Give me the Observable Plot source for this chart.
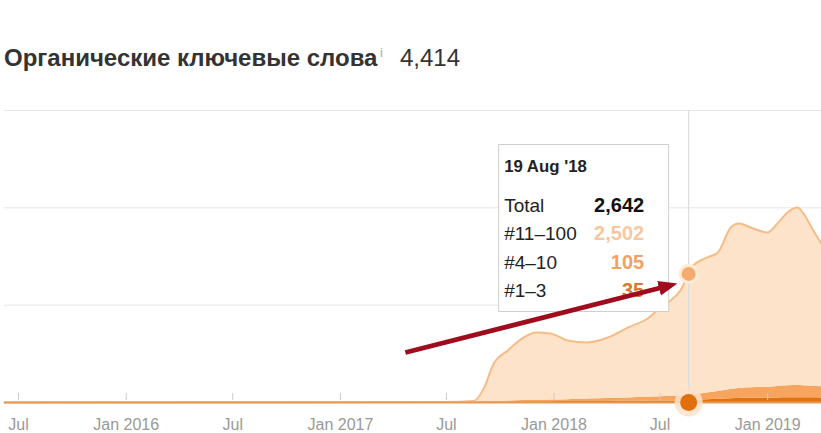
<!DOCTYPE html>
<html><head><meta charset="utf-8">
<script src="https://cdn.jsdelivr.net/npm/d3@7"></script>
<script src="https://cdn.jsdelivr.net/npm/@observablehq/plot@0.6"></script>
<style>
body{margin:0;background:#fff;font-family:"Liberation Sans",Arial,sans-serif;}
#wrap{position:relative;width:821px;height:433px;overflow:hidden;}
#head{position:relative;height:95px;}
#title{position:absolute;left:4px;top:46px;font-size:24px;font-weight:bold;color:#333;line-height:24px;white-space:nowrap;}
#info{position:absolute;left:380px;top:46px;font-size:13px;color:#aaa;line-height:13px;}
#count{position:absolute;left:400px;top:46px;font-size:24px;color:#333;line-height:24px;}
#chart{position:relative;height:338px;}
</style></head>
<body><div id="wrap"><div id="head"><span id="title"></span><span id="info">i</span><span id="count"></span></div><div id="chart"></div></div>
<script>
const titleText = "Органические ключевые слова";
const totalCount = "4,414";
const dates = ["2015-06-07","2017-07-01","2017-08-17","2017-09-03","2017-09-20","2017-10-14","2017-11-10","2017-12-01","2017-12-26","2018-01-24","2018-02-27","2018-04-03","2018-05-07","2018-06-10","2018-07-02","2018-07-19","2018-08-05","2018-08-19","2018-08-27","2018-09-20","2018-10-08","2018-10-30","2018-11-13","2018-12-03","2019-01-01","2019-01-18","2019-02-04","2019-02-21","2019-03-03","2019-03-20","2019-04-03"];
const kw11_100 = [0,5,19,272,775,1038,1296,1395,1369,1217,1165,1253,1445,1617,1832,1968,2167,2502,2660,2785,2855,3330,3390,3290,3180,3350,3560,3655,3540,3202,2940];
const kw4_10 = [0,3,5,10,15,20,25,30,35,40,50,60,70,80,88,95,100,105,115,140,160,190,210,220,225,235,245,250,245,235,230];
const kw1_3 = [0,4,6,8,10,12,14,15,16,18,20,22,25,28,30,32,33,35,40,55,65,75,80,85,90,95,100,100,100,98,95];
const seriesNames = ["#1–3","#4–10","#11–100"];
const seriesColors = ["#e2720f","#f6a45e","#fde3c9"];
const tickDates = ["2015-07-01","2016-01-01","2016-07-01","2017-01-01","2017-07-01","2018-01-01","2018-07-01","2019-01-01"];
const tickLabels = ["Jul","Jan 2016","Jul","Jan 2017","Jul","Jan 2018","Jul","Jan 2019"];
const gridValues = [2000,4000,6000];
const hoverDate = "2018-08-19";
const hoverLabel = "19 Aug '18";
const arrowFrom = {date:"2017-04-22", value:1027};
const arrowTo = {date:"2018-07-11", value:2383};

document.getElementById("title").textContent = titleText;
document.getElementById("count").textContent = totalCount;

const parse = d3.utcParse("%Y-%m-%d");
const long = [];
const seriesArrays = [kw1_3, kw4_10, kw11_100];
dates.forEach((d,i)=>{
  seriesArrays.forEach((arr,k)=> long.push({date:parse(d), series:seriesNames[k], value:arr[i]}));
});
const totals = dates.map((d,i)=>({date:parse(d), value:kw1_3[i]+kw4_10[i]+kw11_100[i]}));
const hi = dates.indexOf(hoverDate);
const hd = parse(hoverDate);
const labelMap = new Map(tickDates.map((d,i)=>[+parse(d), tickLabels[i]]));
const ticks = tickDates.map(parse);

const chart = Plot.plot({
  width: 821, height: 338,
  marginTop: 15, marginBottom: 31, marginLeft: 4, marginRight: 0,
  x: {type:"utc", domain:[parse("2015-06-07"), parse("2019-04-03")], axis:null},
  y: {domain:[0,6000], axis:null},
  color: {domain: seriesNames, range: seriesColors},
  style: {fontFamily:"'Liberation Sans', Arial, sans-serif", background:"transparent"},
  marks: [
    Plot.gridY(gridValues, {stroke:"#e6e6e6", strokeOpacity:1, strokeWidth:1}),
    Plot.areaY(long, {x:"date", y:"value", fill:"series", z:"series", order: seriesNames, curve:"monotone-x"}),
    Plot.lineY(totals, {x:"date", y:"value", stroke:"#f4bd88", strokeWidth:2, curve:"monotone-x"}),
    Plot.ruleY([0], {stroke:"#e39a55", strokeWidth:2}),
    Plot.ruleX(ticks, {x:d=>d, y1:0, y2:0, insetTop:-9, insetBottom:2, stroke:"#cccccc"}),
    Plot.axisX({ticks, tickSize:0, tickPadding:16, fontSize:16, fill:"#999", tickFormat:d=>labelMap.get(+d)}),
    Plot.ruleX([hd], {y1:0, y2:6000, stroke:"#dcdcdc", strokeWidth:1.2}),
    Plot.dot([totals[hi]], {x:"date", y:"value", r:10, fill:"#fdebd9", stroke:"none"}),
    Plot.dot([totals[hi]], {x:"date", y:"value", r:7, fill:"#f6ab6e", stroke:"none"}),
    Plot.dot([{date:hd, value:0}], {x:"date", y:"value", r:14, fill:"#fbe2ca", fillOpacity:0.85, stroke:"none"}),
    Plot.dot([{date:hd, value:0}], {x:"date", y:"value", r:8.5, fill:"#e0700e", stroke:"none"}),
    Plot.link([{x1:parse(arrowFrom.date), y1:arrowFrom.value, x2:parse(arrowTo.date), y2:arrowTo.value}], {x1:"x1", y1:"y1", x2:"x2", y2:"y2", stroke:"#9e0c1e", strokeWidth:4.8})
  ]
});
document.getElementById("chart").appendChild(chart);

const svg = d3.select(chart);
// filled arrowhead marker for the annotation arrow
const defs = svg.insert("defs", ":first-child");
defs.append("marker").attr("id","ahead").attr("markerUnits","userSpaceOnUse")
  .attr("viewBox","0 -8 19 16").attr("refX",7).attr("refY",0)
  .attr("markerWidth",19).attr("markerHeight",16).attr("orient","auto")
  .append("path").attr("d","M0,-7.5L19,0L0,7.5Z").attr("fill","#9e0c1e");
const linkG = chart.querySelector('g[aria-label="link"]');
d3.select(linkG).selectAll("path,line").attr("marker-end","url(#ahead)");

// tooltip inside svg, below the arrow
const sx = chart.scale("x");
const xh = sx.apply(hd);
const tip = svg.insert("g", () => linkG).attr("transform", `translate(${xh - 190},${49})`).attr("text-anchor","start");
tip.append("rect").attr("x",0.5).attr("y",0.5).attr("width",170).attr("height",167).attr("fill","#fff").attr("fill-opacity",0.95).attr("stroke","#cfcfcf");
tip.append("text").attr("x",6).attr("y",28).attr("font-size",16.8).attr("font-weight","bold").attr("fill","#222").attr("text-anchor","start").text(hoverLabel);
const rows = [
  {label:"Total", value: totals[hi].value, color:"#111"},
  {label:seriesNames[2], value: kw11_100[hi], color:"#f6c7a0"},
  {label:seriesNames[1], value: kw4_10[hi], color:"#f0a262"},
  {label:seriesNames[0], value: kw1_3[hi], color:"#d9782c"}
];
const fmt = d3.format(",");
rows.forEach((r,i)=>{
  const y = 68 + i*28.3;
  tip.append("text").attr("x",6).attr("y",y).attr("font-size",19).attr("fill","#222").attr("text-anchor","start").text(r.label);
  tip.append("text").attr("x",146).attr("y",y).attr("font-size",20).attr("font-weight","bold").attr("text-anchor","end").attr("fill",r.color).text(fmt(r.value));
});
</script>
</body></html>
